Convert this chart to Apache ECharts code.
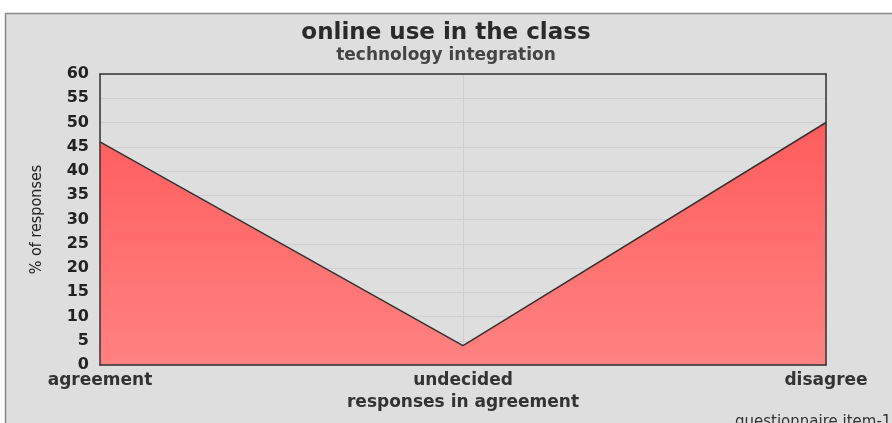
<!DOCTYPE html>
<html>
<head>
<meta charset="utf-8">
<script src="https://cdn.jsdelivr.net/npm/echarts@6/dist/echarts.min.js"></script>
<style>
  html, body { margin: 0; padding: 0; background: #fff; }
  #chart { width: 892px; height: 423px; }
</style>
</head>
<body>
<div id="chart"></div>
<script>
const categories = ['agreement', 'undecided', 'disagree']
const responses = [46, 4, 50]
const yMin = 0
const yMax = 60
const yStep = 5

const font = '"DejaVu Sans", "Open Sans", sans-serif'
const frame = { show: true, onZero: false, lineStyle: { color: '#333', width: 1.5 } }
const chart = echarts.init(document.getElementById('chart'))

// extra axes only draw the dark frame above the filled area
const frameX = pos => ({
  type: 'category', data: categories, boundaryGap: false, position: pos,
  axisLine: frame, axisTick: { show: false }, axisLabel: { show: false },
  splitLine: { show: false }, z: 5
})
const frameY = pos => ({
  type: 'value', min: yMin, max: yMax, interval: yStep, position: pos,
  axisLine: frame, axisTick: { show: false }, axisLabel: { show: false },
  splitLine: { show: false }, z: 5
})

chart.setOption({
  backgroundColor: '#ffffff',
  animation: false,
  graphic: [
    {
      type: 'rect',
      z: -10,
      shape: { x: 5.5, y: 13.5, width: 900, height: 420 },
      style: { fill: '#dedede', stroke: '#8a8a8a', lineWidth: 1.5 }
    },
    {
      type: 'text',
      left: 735,
      top: 415,
      style: { text: 'questionnaire.item-11', fill: '#333', font: '15px ' + font }
    }
  ],
  title: {
    text: 'online use in the class',
    subtext: 'technology integration',
    left: 'center',
    top: 17,
    itemGap: 2,
    textStyle: { fontFamily: font, fontSize: 23, fontWeight: 'bold', color: '#2a2a2a' },
    subtextStyle: { fontFamily: font, fontSize: 17, fontWeight: 'bold', color: '#444' }
  },
  grid: {
    left: 100,
    right: 66,
    top: 74,
    bottom: 58
  },
  xAxis: [{
    type: 'category',
    data: categories,
    boundaryGap: false,
    name: 'responses in agreement',
    nameLocation: 'middle',
    nameGap: 28,
    nameTextStyle: { fontFamily: font, fontSize: 17, fontWeight: 'bold', color: '#333' },
    axisLine: { show: false },
    axisTick: { show: false },
    axisLabel: { fontFamily: font, fontSize: 17, fontWeight: 'bold', color: '#333', margin: 7 },
    splitLine: { show: true, lineStyle: { color: '#cfcfcf' } }
  }, frameX('bottom'), frameX('top')],
  yAxis: [{
    type: 'value',
    min: yMin,
    max: yMax,
    interval: yStep,
    name: '% of responses',
    nameLocation: 'middle',
    nameGap: 55,
    nameTextStyle: { fontFamily: '"Liberation Sans Narrow", "DejaVu Sans Condensed", sans-serif', fontSize: 16, color: '#222' },
    axisLine: { show: false },
    axisTick: { show: false },
    axisLabel: { fontFamily: font, fontSize: 16, fontWeight: 'bold', color: '#222', margin: 11 },
    splitLine: { lineStyle: { color: '#cfcfcf' } }
  }, frameY('left'), frameY('right')],
  series: [{
    type: 'line',
    data: responses,
    xAxisIndex: 0,
    yAxisIndex: 0,
    symbol: 'none',
    lineStyle: { color: '#333', width: 1.5 },
    areaStyle: {
      opacity: 1,
      color: {
        type: 'linear',
        x: 0, y: 0, x2: 0, y2: 1,
        colorStops: [
          { offset: 0, color: '#ff5c5c' },
          { offset: 1, color: '#ff8282' }
        ]
      }
    }
  }]
})
</script>
</body>
</html>
